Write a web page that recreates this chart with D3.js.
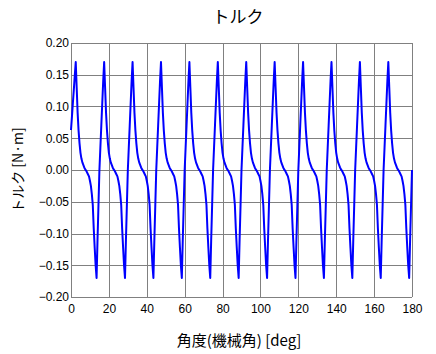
<!DOCTYPE html>
<html>
<head>
<meta charset="utf-8">
<script src="https://cdn.jsdelivr.net/npm/d3@7"></script>
<style>
  html, body { margin: 0; padding: 0; background: #fff; }
  svg { display: block; }
</style>
</head>
<body>
<svg id="chart" width="436" height="354"></svg>
<script>
// ---- data ----
const title = "トルク";
const xLabel = "角度(機械角) [deg]";
const yLabel = "トルク [N·m]";
const xTicks = [0, 20, 40, 60, 80, 100, 120, 140, 160, 180];
const yTicks = [-0.20, -0.15, -0.10, -0.05, 0.00, 0.05, 0.10, 0.15, 0.20];
// one electrical period (15 deg mechanical), offsets in deg and torque in N·m
const periodOffset = [0, 0.5, 1, 1.5, 2, 2.5, 3, 3.5, 4, 4.5, 5, 5.5, 6, 6.5, 7, 7.5,
                      8, 8.5, 9, 9.5, 10, 10.5, 11, 11.5, 12, 12.5, 13, 13.5, 14, 14.5];
const periodTorque = [0.000, 0.035, 0.070, 0.105, 0.140, 0.170, 0.130, 0.090, 0.062, 0.042,
                      0.027, 0.018, 0.012, 0.008, 0.004, 0.001, -0.001, -0.004, -0.007, -0.010,
                      -0.017, -0.025, -0.038, -0.055, -0.092, -0.122, -0.150, -0.170, -0.110, -0.055];
// the first period starts at a different value (start-up)
const firstPeriodTorque = [0.063, 0.084, 0.106, 0.127, 0.149, 0.170, 0.130, 0.090, 0.062, 0.042,
                      0.027, 0.018, 0.012, 0.008, 0.004, 0.001, -0.001, -0.004, -0.007, -0.010,
                      -0.017, -0.025, -0.038, -0.055, -0.092, -0.122, -0.150, -0.170, -0.110, -0.055];
const periodLength = 15;
const periodCount = 12;
const endTorque = 0.000;     // value at 180 deg

// build the series from the read periods
const series = [];
for (let k = 0; k < periodCount; k++) {
  const vals = k === 0 ? firstPeriodTorque : periodTorque;
  periodOffset.forEach((o, i) => series.push({ x: k * periodLength + o, y: vals[i] }));
}
series.push({ x: periodCount * periodLength, y: endTorque });

// ---- layout ----
const svg = d3.select("#chart");
const m = { left: 71, right: 412, top: 43, bottom: 297 };

const x = d3.scaleLinear().domain([0, 180]).range([m.left, m.right]);
const y = d3.scaleLinear().domain([-0.2, 0.2]).range([m.bottom, m.top]);

svg.append("rect").attr("x", 0).attr("y", 0).attr("width", 436).attr("height", 354).attr("fill", "#fff");

// grid
const grid = svg.append("g").attr("stroke", "#808080").attr("stroke-width", 1).attr("shape-rendering", "crispEdges");
grid.selectAll("line.v").data(xTicks).join("line")
  .attr("x1", d => Math.round(x(d)) + 0.5).attr("x2", d => Math.round(x(d)) + 0.5)
  .attr("y1", m.top).attr("y2", m.bottom);
grid.selectAll("line.h").data(yTicks).join("line")
  .attr("y1", d => Math.round(y(d)) + 0.5).attr("y2", d => Math.round(y(d)) + 0.5)
  .attr("x1", m.left).attr("x2", m.right);

// axes (labels only)
const fmt = d3.format(".2f");
const yAxis = d3.axisLeft(y).tickValues(yTicks).tickFormat(fmt).tickSize(0).tickPadding(2);
const gy = svg.append("g").attr("transform", `translate(${m.left},0)`).call(yAxis);
gy.select(".domain").remove();
gy.selectAll("text").attr("font-family", "'Liberation Sans', Arial, sans-serif").attr("font-size", 12).attr("fill", "#000");

const xAxis = d3.axisBottom(x).tickValues(xTicks).tickFormat(d3.format("d")).tickSize(0).tickPadding(7);
const gx = svg.append("g").attr("transform", `translate(0,${m.bottom})`).call(xAxis);
gx.select(".domain").remove();
gx.selectAll("text").attr("font-family", "'Liberation Sans', Arial, sans-serif").attr("font-size", 12).attr("fill", "#000");

// line
const line = d3.line().x(d => x(d.x)).y(d => y(d.y));
svg.append("path").datum(series)
  .attr("d", line).attr("fill", "none").attr("stroke", "#0000ff")
  .attr("stroke-width", 2).attr("stroke-linejoin", "round");

// titles
svg.append("text").attr("x", 238).attr("y", 23).attr("text-anchor", "middle")
  .attr("font-family", "'Noto Sans CJK JP', sans-serif").attr("font-size", 17).attr("fill", "#000").text(title);
svg.append("text").attr("x", 239).attr("y", 346).attr("text-anchor", "middle")
  .attr("font-family", "'Noto Sans CJK JP', sans-serif").attr("font-size", 15).attr("fill", "#000").text(xLabel);
svg.append("text").attr("transform", "translate(23,170) rotate(-90)").attr("text-anchor", "middle")
  .attr("font-family", "'Noto Sans CJK JP', sans-serif").attr("font-size", 14).attr("fill", "#000").text(yLabel);
</script>
</body>
</html>
